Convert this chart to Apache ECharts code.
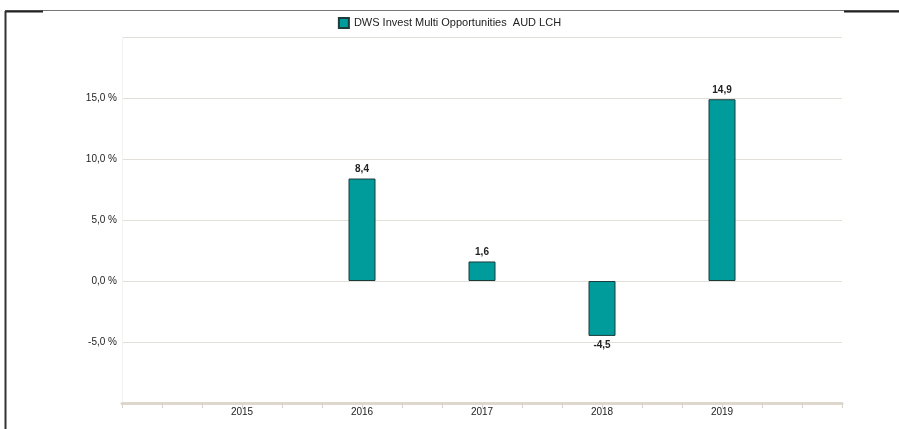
<!DOCTYPE html>
<html>
<head>
<meta charset="utf-8">
<script src="https://cdn.jsdelivr.net/npm/echarts@6/dist/echarts.min.js"></script>
<style>
    html, body { margin: 0; padding: 0; background: #fff; }
    #chart { width: 899px; height: 429px; }
</style>
</head>
<body>
<div id="chart"></div>
<script>
// data
var seriesName = 'DWS Invest Multi Opportunities  AUD LCH';
var years = ['2015', '2016', '2017', '2018', '2019'];
var values = [null, 8.4, 1.6, -4.5, 14.9];
var yTicks = [-5, 0, 5, 10, 15];

function fmtNum(v) {
    return v.toFixed(1).replace('.', ',');
}

// bars sit on a value axis: year i at position i + 1
// negative bars get their label below
var barData = [];
for (var i = 0; i < years.length; i++) {
    if (values[i] === null) continue;
    if (values[i] < 0) {
        barData.push({ value: [i + 1, values[i]], label: { position: 'bottom' } });
    } else {
        barData.push([i + 1, values[i]]);
    }
}

var chart = echarts.init(document.getElementById('chart'));
var option = {
    animation: false,
    textStyle: { fontFamily: 'Liberation Sans, Arial, sans-serif' },
    legend: {
        top: 12,
        left: 'center',
        icon: 'rect',
        itemWidth: 10,
        itemHeight: 10,
        itemGap: 6,
        textStyle: { fontSize: 11, color: '#222' },
        data: [seriesName]
    },
    grid: { left: 122, right: 57, top: 37, bottom: 26 },
    xAxis: {
        type: 'value',
        min: 0,
        max: 6,
        interval: 1,
        splitLine: { show: false },
        minorSplitLine: { show: false },
        axisLine: { show: true, onZero: false, lineStyle: { color: '#ddd7cc', width: 3 } },
        axisTick: { show: true, length: 5, lineStyle: { color: '#d8d3ca', width: 1 } },
        minorTick: { show: true, splitNumber: 3, length: 5, lineStyle: { color: '#d8d3ca', width: 1 } },
        axisLabel: {
            fontSize: 10,
            color: '#222',
            margin: 4,
            formatter: function (v) {
                return years[v - 1] || '';
            }
        }
    },
    yAxis: {
        type: 'value',
        min: -10,
        max: 20,
        interval: 5,
        axisLine: { show: true, onZero: false, lineStyle: { color: '#f4f2ee', width: 1 } },
        axisTick: { show: false },
        splitLine: { lineStyle: { color: '#e2dfd9', width: 1 } },
        axisLabel: {
            fontSize: 10,
            color: '#222',
            margin: 5,
            formatter: function (v) {
                return yTicks.indexOf(v) >= 0 ? fmtNum(v) + ' %' : '';
            }
        }
    },
    series: [{
        name: seriesName,
        type: 'bar',
        barWidth: 27,
        data: barData,
        itemStyle: { color: '#009b9b', borderColor: '#1d3b3b', borderWidth: 1 },
        label: {
            show: true,
            position: 'top',
            distance: 4,
            fontSize: 10,
            fontWeight: 'bold',
            color: '#222',
            formatter: function (p) {
                return fmtNum(p.value[1]);
            }
        }
    }],
    graphic: [
        // frame lines round the chart
        { type: 'line', shape: { x1: 5, y1: 10.5, x2: 899, y2: 10.5 }, style: { stroke: '#777', lineWidth: 1 } },
        { type: 'line', shape: { x1: 5, y1: 11.5, x2: 43, y2: 11.5 }, style: { stroke: '#222', lineWidth: 2 } },
        { type: 'line', shape: { x1: 5.5, y1: 11, x2: 5.5, y2: 429 }, style: { stroke: '#333', lineWidth: 2 } },
        { type: 'line', shape: { x1: 844, y1: 11.5, x2: 899, y2: 11.5 }, style: { stroke: '#222', lineWidth: 2 } }
    ]
};

chart.setOption(option);
</script>
</body>
</html>
